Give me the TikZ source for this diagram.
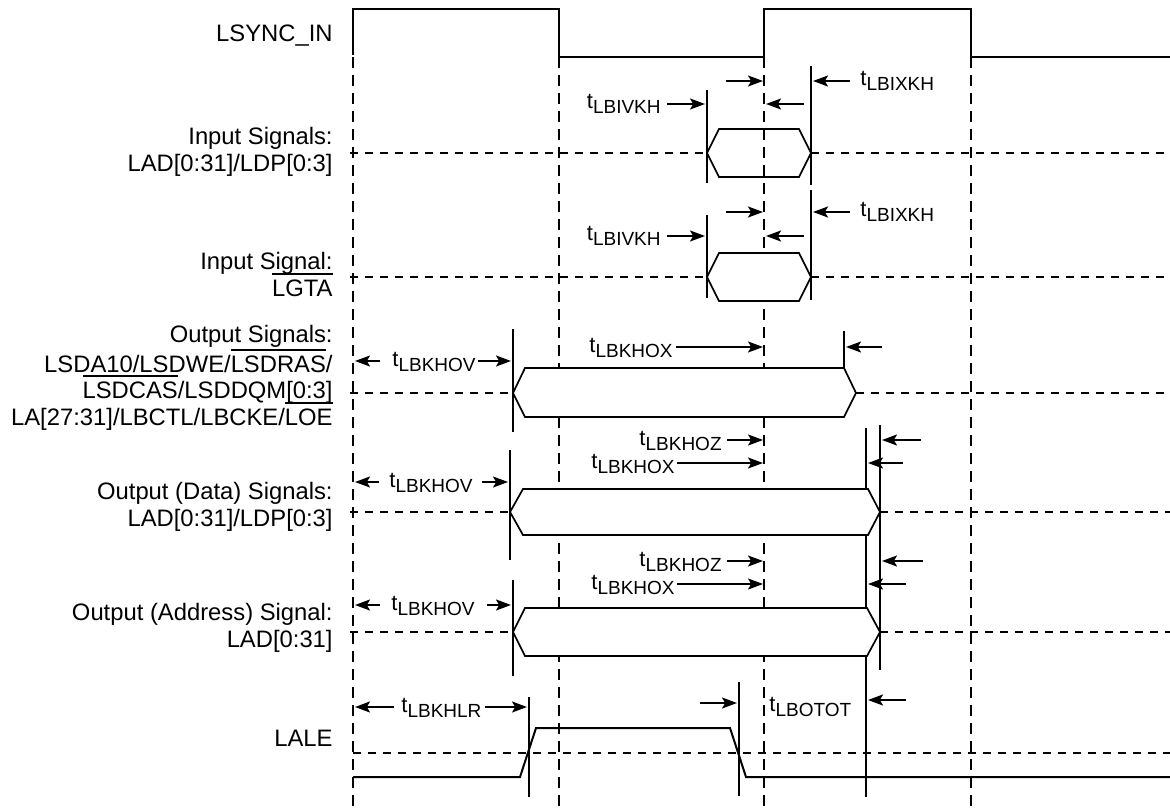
\documentclass[tikz,border=0pt]{standalone}
\usepackage{fontspec}
\setmainfont{Liberation Sans}
\usetikzlibrary{arrows.meta}
\newcommand\tsub[1]{t\raisebox{-2.5pt}{\fontsize{9.5}{10}\selectfont #1}}
\newcommand\ovbar[1]{\vbox{\hrule height 0.9pt\kern 2.4pt\hbox{#1}}}
\begin{document}
\begin{tikzpicture}[x=0.5pt,y=-0.5pt,
  sig/.style={line width=1pt},
  vdash/.style={line width=1pt,dash pattern=on 5.5pt off 3.5pt},
  hdash/.style={line width=1pt,dash pattern=on 4pt off 3.5pt},
  hexa/.style={line width=0.85pt,line join=miter},
  mk/.style={line width=1pt},
  dim/.style={line width=1pt,-{Stealth[length=7.5pt,width=5.5pt,inset=1.6pt]}},
  lbl/.style={inner sep=0pt,font=\fontsize{11.9}{14}\selectfont,anchor=base east},
  tl/.style={inner sep=0pt,font=\fontsize{11}{13}\selectfont}]
\useasboundingbox[fill=white] (0,0) rectangle (1170,807);

% vertical dashed reference lines
\foreach \x in {353,559,764,971} \draw[vdash] (\x,57) -- (\x,807);

% horizontal dashed lines
\draw[hdash] (350,153) -- (707,153) (811,153) -- (1170,153);
\draw[hdash] (350,277) -- (707,277) (811,277) -- (1170,277);
\draw[hdash] (350,393) -- (513,393) (856,393) -- (1170,393);
\draw[hdash] (350,512) -- (510,512) (880,512) -- (1170,512);
\draw[hdash] (350,632) -- (513,632) (880,632) -- (1170,632);
\draw[hdash] (353,753) -- (1170,753);

% LSYNC_IN
\draw[sig] (353,55) -- (353,9) -- (559,9) -- (559,57) -- (764,57) -- (764,9) -- (971,9) -- (971,57) -- (1170,57);

% vertical marker lines
\draw[mk] (707,90) -- (707,183);
\draw[mk] (811,66) -- (811,185);
\draw[mk] (707,215) -- (707,298);
\draw[mk] (811,190) -- (811,300);
\draw[mk] (513,329) -- (513,432);
\draw[mk] (844,331) -- (844,368);
\draw[mk] (510,450) -- (510,560);
\draw[mk] (513,580) -- (513,676);
\draw[mk] (866,428) -- (866,797);
\draw[mk] (880,425) -- (880,670);
\draw[mk] (529,697) -- (529,797);
\draw[mk] (739,682) -- (739,796);

% hexagons (bus valid windows)
\draw[hexa] (707,153) -- (719,129) -- (799,129) -- (811,153) -- (799,177) -- (719,177) -- cycle;
\draw[hexa,fill=white] (707,277) -- (719,253) -- (799,253) -- (811,277) -- (799,301) -- (719,301) -- cycle;
\draw[hexa,fill=white] (513,393) -- (525,368) -- (844,368) -- (856,393) -- (844,417) -- (525,417) -- cycle;
\draw[hexa,fill=white] (510,512) -- (523,489) -- (868,489) -- (880,512) -- (868,535) -- (523,535) -- cycle;
\draw[hexa,fill=white] (513,632) -- (525,608) -- (867,608) -- (880,632) -- (867,656) -- (525,656) -- cycle;

% LALE waveform
\draw[sig] (353,777) -- (520,777) -- (536,728) -- (730,728) -- (746,777) -- (1170,777);

% row labels
\node[lbl] (lsync) at (333,42) {LSYNC\_IN};
\node[lbl] (in1a) at (333,145) {Input Signals:};
\node[lbl] (in1b) at (333,172) {LAD[0:31]/LDP[0:3]};
\node[lbl] (in2a) at (333,270) {Input Signal:};
\node[lbl] (in2b) at (333,296) {\ovbar{LGTA}};
\node[lbl] (out3a) at (333,342) {Output Signals:};
\node[lbl] (out3b) at (333,372) {LSDA10/LSDWE/\ovbar{LSDRAS}/};
\node[lbl] (out3c) at (333,398) {\ovbar{LSDCAS}/LSDDQM[0:3]};
\node[lbl] (out3d) at (333,425) {LA[27:31]/LBCTL/LBCKE/\ovbar{LOE}};
\node[lbl] (out4a) at (333,499) {Output (Data) Signals:};
\node[lbl] (out4b) at (333,526) {LAD[0:31]/LDP[0:3]};
\node[lbl] (out5a) at (333,620) {Output (Address) Signal:};
\node[lbl] (out5b) at (333,647) {LAD[0:31]};
\node[lbl] (lale) at (333,746) {LALE};

% row 1 timing
\node[tl,anchor=base east] (t1v) at (661,109) {\tsub{LBIVKH}};
\node[tl,anchor=base west] (t1x) at (860,86) {\tsub{LBIXKH}};
\draw[dim] (667,104) -- (705,104);
\draw[dim] (726,81) -- (763,81);
\draw[dim] (804,104) -- (766,104);
\draw[dim] (850,81) -- (813,81);

% row 2 timing
\node[tl,anchor=base east] (t2v) at (661,241) {\tsub{LBIVKH}};
\node[tl,anchor=base west] (t2x) at (860,217) {\tsub{LBIXKH}};
\draw[dim] (667,236) -- (705,236);
\draw[dim] (726,212) -- (763,212);
\draw[dim] (804,236) -- (766,236);
\draw[dim] (850,212) -- (813,212);

% row 3 timing
\node[tl,anchor=base] (t3v) at (434,366) {\tsub{LBKHOV}};
\draw[dim] (380,361) -- (355,361);
\draw[dim] (478,361) -- (511,361);
\node[tl,anchor=base east] (t3x) at (673,352) {\tsub{LBKHOX}};
\draw[dim] (676,347) -- (763,347);
\draw[dim] (882,347) -- (846,347);

% row 4 timing
\node[tl,anchor=base] (t4v) at (431,487) {\tsub{LBKHOV}};
\draw[dim] (379,482) -- (355,482);
\draw[dim] (482,482) -- (508,482);
\node[tl,anchor=base east] (t4z) at (722,445) {\tsub{LBKHOZ}};
\draw[dim] (727,440) -- (763,440);
\node[tl,anchor=base east] (t4x) at (675,468) {\tsub{LBKHOX}};
\draw[dim] (677,463) -- (763,463);
\draw[dim] (921,440) -- (882,440);
\draw[dim] (903,463) -- (868,463);

% row 5 timing
\node[tl,anchor=base] (t5v) at (433,610) {\tsub{LBKHOV}};
\draw[dim] (380,605) -- (355,605);
\draw[dim] (487,605) -- (511,605);
\node[tl,anchor=base east] (t5z) at (722,566) {\tsub{LBKHOZ}};
\draw[dim] (727,561) -- (763,561);
\node[tl,anchor=base east] (t5x) at (675,589) {\tsub{LBKHOX}};
\draw[dim] (677,584) -- (763,584);
\draw[dim] (923,561) -- (882,561);
\draw[dim] (906,584) -- (868,584);

% LALE timing
\node[tl,anchor=base west] (t6r) at (401,712) {\tsub{LBKHLR}};
\draw[dim] (394,707) -- (355,707);
\draw[dim] (485,707) -- (527,707);
\draw[dim] (700,703) -- (737,703);
\node[tl,anchor=base west] (t6o) at (769,711) {\tsub{LBOTOT}};
\draw[dim] (906,700) -- (868,700);
\end{tikzpicture}
\end{document}
